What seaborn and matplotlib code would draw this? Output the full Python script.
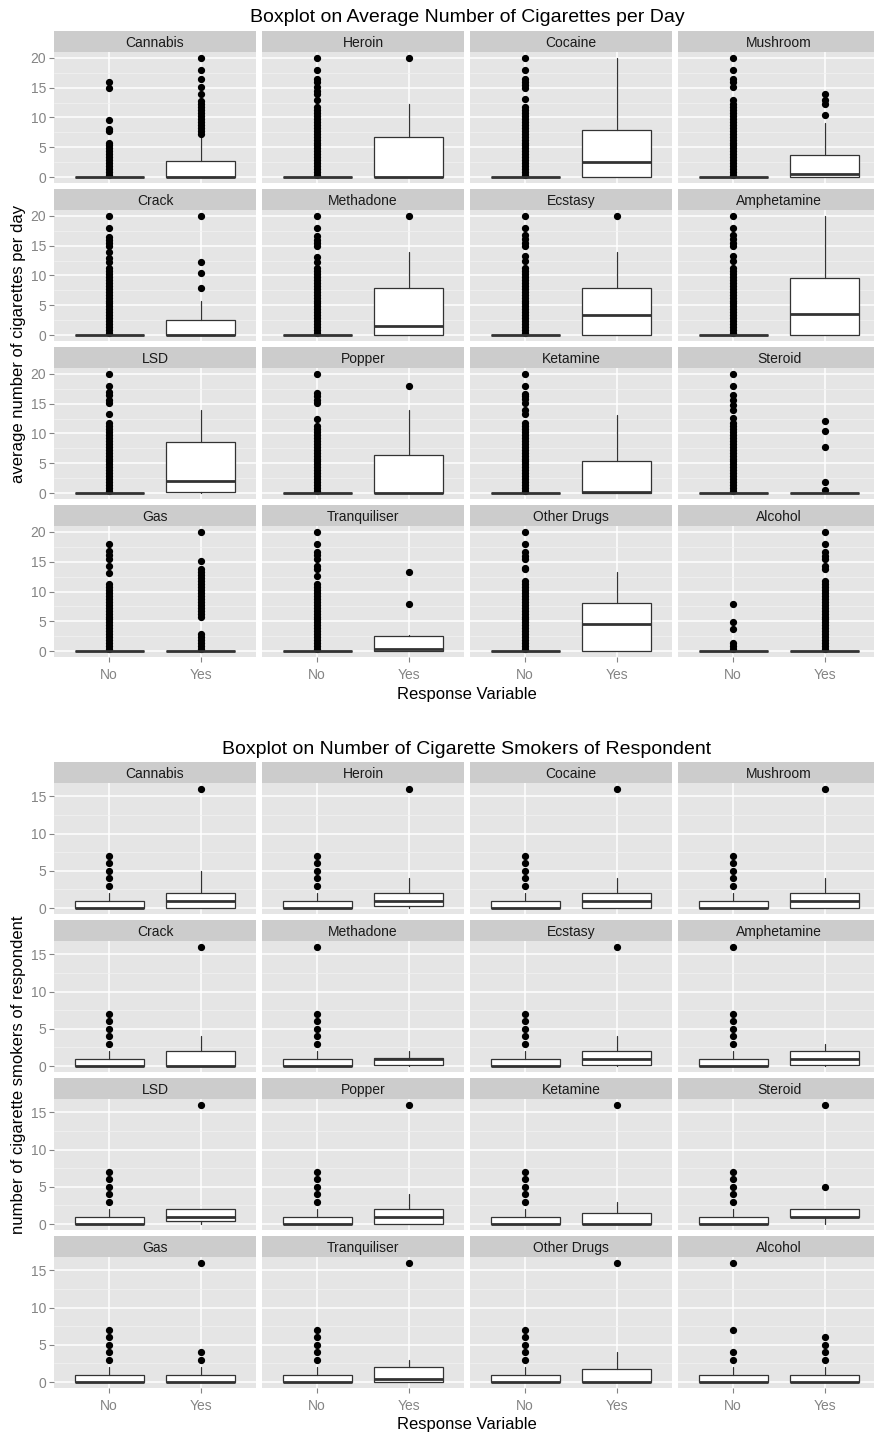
import matplotlib
matplotlib.use("Agg")
import matplotlib.pyplot as plt
import seaborn as sns

# ---------------- data ----------------
DRUGS = ["Cannabis", "Heroin", "Cocaine", "Mushroom",
         "Crack", "Methadone", "Ecstasy", "Amphetamine",
         "LSD", "Popper", "Ketamine", "Steroid",
         "Gas", "Tranquiliser", "Other Drugs", "Alcohol"]
GROUPS = ["No", "Yes"]

# values used to render densely packed outlier columns
STACK = [0.3, 0.8, 1.3, 1.8, 2.3, 2.8, 3.3, 3.8, 4.3, 4.8, 5.3, 5.8, 6.3, 6.8,
         7.3, 7.8, 8.3, 8.8, 9.3, 9.8, 10.3, 10.8, 11.3, 11.8, 12.3, 12.8,
         13.3, 13.8]

# --- Chart 1: average number of cigarettes per day ---
cig_no_q1 = [0, 0, 0, 0, 0, 0, 0, 0, 0, 0, 0, 0, 0, 0, 0, 0]
cig_no_med = [0, 0, 0, 0, 0, 0, 0, 0, 0, 0, 0, 0, 0, 0, 0, 0]
cig_no_q3 = [0, 0, 0, 0, 0, 0, 0, 0, 0, 0, 0, 0, 0, 0, 0, 0]
cig_no_lo = [0, 0, 0, 0, 0, 0, 0, 0, 0, 0, 0, 0, 0, 0, 0, 0]
cig_no_hi = [0, 0, 0, 0, 0, 0, 0, 0, 0, 0, 0, 0, 0, 0, 0, 0]
cig_no_dense = [[(0.3, 6.0)], [(0.3, 12.0)], [(0.3, 11.8)], [(0.3, 12.4)],
                [(0.3, 11.5)], [(0.3, 11.6)], [(0.3, 11.6)], [(0.3, 11.6)],
                [(0.3, 11.8)], [(0.3, 11.5)], [(0.3, 12.1)], [(0.3, 11.8)],
                [(0.3, 11.5)], [(0.3, 11.5)], [(0.3, 12.0)], []]
cig_no_sparse = [
    [7.8, 8.1, 9.6, 15.0, 15.9],
    [13.0, 13.9, 14.5, 15.1, 15.9, 16.5, 17.9, 20],
    [13.1, 14.9, 15.4, 16.0, 16.5, 17.9, 20],
    [13.0, 15.1, 15.9, 16.5, 17.9, 20],
    [12.2, 13.0, 14.0, 15.0, 15.5, 16.0, 16.5, 17.9, 20],
    [12.3, 13.1, 14.9, 15.4, 16.0, 16.6, 17.9, 20],
    [12.4, 13.3, 15.0, 15.5, 16.2, 16.8, 17.9, 20],
    [12.4, 13.3, 15.0, 15.5, 16.2, 16.8, 17.9, 20],
    [13.2, 15.2, 15.7, 16.5, 16.9, 17.9, 20],
    [12.4, 15.2, 15.7, 16.3, 16.8, 20],
    [13.2, 14.0, 15.1, 15.8, 16.3, 16.6, 17.9, 20],
    [12.6, 14.0, 14.8, 15.6, 16.5, 17.9, 20],
    [13.1, 14.3, 15.4, 16.2, 16.8, 17.9],
    [12.6, 13.7, 14.3, 15.4, 16.2, 16.6, 17.9, 20],
    [13.7, 14.0, 15.4, 16.0, 16.6, 17.9, 20],
    [0.3, 0.9, 1.3, 3.7, 4.8, 7.9],
]
cig_yes_q1 = [0, 0, 0, 0, 0, 0, 0, 0, 0.1, 0, 0, 0, 0, 0, 0, 0]
cig_yes_med = [0, 0, 2.6, 0.45, 0, 1.5, 3.3, 3.6, 2.1, 0, 0.2, 0, 0, 0.33, 4.5, 0]
cig_yes_q3 = [2.7, 6.8, 7.9, 3.7, 2.5, 7.9, 7.9, 9.5, 8.5, 6.35, 5.3, 0, 0, 2.45, 8.0, 0]
cig_yes_lo = [0, 0, 0, 0, 0, 0, 0, 0, 0, 0, 0, 0, 0, 0, 0, 0]
cig_yes_hi = [6.8, 12.2, 20, 9.1, 5.7, 14.0, 14.0, 20, 14.0, 14.0, 13.1, 0, 0, 2.7, 13.3, 0]
cig_yes_dense = [[(7.0, 13.0)], [], [], [],
                 [], [], [], [],
                 [], [], [], [],
                 [(0.3, 3.1), (5.6, 14.0)], [], [], [(0.3, 12.0)]]
cig_yes_sparse = [
    [13.9, 15.1, 16.5, 17.9, 20],
    [20], [], [10.4, 12.2, 13.0, 13.9],
    [7.9, 10.5, 12.3, 20], [20], [20], [],
    [], [17.9], [], [0.56, 1.9, 7.8, 10.4, 12.1],
    [15.1, 20], [7.9, 13.2], [], [13.7, 14.3, 15.4, 16.0, 16.6, 17.9, 20],
]

# --- Chart 2: number of cigarette smokers of respondent ---
smk_no_q1 = [0, 0, 0, 0, 0, 0, 0, 0, 0, 0, 0, 0, 0, 0, 0, 0]
smk_no_med = [0, 0, 0, 0, 0, 0, 0, 0, 0, 0, 0, 0, 0, 0, 0, 0]
smk_no_q3 = [1, 1, 1, 1, 1, 1, 1, 1, 1, 1, 1, 1, 1, 1, 1, 1]
smk_no_lo = [0, 0, 0, 0, 0, 0, 0, 0, 0, 0, 0, 0, 0, 0, 0, 0]
smk_no_hi = [2, 2, 2, 2, 2, 2, 2, 2, 2, 2, 2, 2, 2, 2, 2, 2]
smk_no_out = [
    [3, 4, 5, 6, 7], [3, 4, 5, 6, 7], [3, 4, 5, 6, 7], [3, 4, 5, 6, 7],
    [3, 4, 5, 6, 7], [3, 4, 5, 6, 7, 16], [3, 4, 5, 6, 7], [3, 4, 5, 6, 7, 16],
    [3, 4, 5, 6, 7], [3, 4, 5, 6, 7], [3, 4, 5, 6, 7], [3, 4, 5, 6, 7],
    [3, 4, 5, 6, 7], [3, 4, 5, 6, 7], [3, 4, 5, 6, 7], [3, 4, 7, 16],
]
smk_yes_q1 = [0, 0.22, 0, 0, 0, 0.1, 0.1, 0.1, 0.36, 0, 0, 0.9, 0, 0, 0, 0]
smk_yes_med = [1, 1, 1, 1, 0, 1, 1, 1, 1, 1, 0, 1, 0, 0.45, 0, 0]
smk_yes_q3 = [2, 2, 2, 2, 2, 1.1, 2, 2, 2, 2, 1.5, 2.06, 1, 2, 1.8, 1]
smk_yes_lo = [0, 0, 0, 0, 0, 0, 0, 0, 0, 0, 0, 0, 0, 0, 0, 0]
smk_yes_hi = [5, 4, 4, 4, 4, 2, 4, 3, 2, 4, 3, 2.06, 2, 3, 4.1, 2]
smk_yes_out = [
    [16], [16], [16], [16],
    [16], [], [16], [],
    [16], [16], [16], [5, 16],
    [3, 4, 16], [16], [16], [3, 4, 5, 6],
]

# ---------------- style ----------------
sns.set_theme(style="darkgrid", rc={"axes.facecolor": "#E5E5E5",
                                    "grid.color": "white",
                                    "figure.facecolor": "white"})
plt.rcParams["font.family"] = ["Liberation Sans", "DejaVu Sans"]

W, H = 874, 1437
fig = plt.figure(figsize=(W / 100, H / 100), dpi=100)


def rect(x0, y0, w, h):
    return [x0 / W, 1 - (y0 + h) / H, w / W, h / H]


COL_LEFT = [54, 262, 470, 678]
PW, PH, SH, ROWSTEP = 202, 131, 21, 158
TICK_C = "#848484"
EDGE = "#333333"


def fliers(dense, sparse):
    vals = []
    for lo, hi in dense:
        vals += [v for v in STACK if lo <= v <= hi]
    return vals + list(sparse)


def draw_chart(top, title, ylabel, ylim, majors, minors, stats_fn):
    for i, drug in enumerate(DRUGS):
        r, c = divmod(i, 4)
        st = top + ROWSTEP * r
        sax = fig.add_axes(rect(COL_LEFT[c], st, PW, SH))
        sax.set_facecolor("#CCCCCC")
        sax.set_xticks([]); sax.set_yticks([])
        sax.grid(False)
        for sp in sax.spines.values():
            sp.set_visible(False)
        sax.text(0.5, 0.45, drug, ha="center", va="center", fontsize=10,
                 color="#1A1A1A", transform=sax.transAxes)

        ax = fig.add_axes(rect(COL_LEFT[c], st + SH, PW, PH))
        ax.set_facecolor("#E5E5E5")
        ax.set_axisbelow(True)
        for sp in ax.spines.values():
            sp.set_visible(False)
        ax.set_xlim(0.4, 2.6)
        ax.set_ylim(*ylim)
        ax.set_yticks(majors)
        ax.set_yticks(minors, minor=True)
        ax.grid(which="major", axis="both", color="white", lw=1.1)
        ax.grid(which="minor", axis="y", color="#F2F2F2", lw=0.5)
        ax.grid(which="minor", axis="x", visible=False)

        ax.bxp(stats_fn(i), positions=[1, 2], widths=0.75, patch_artist=True,
               showcaps=False,
               boxprops=dict(facecolor="white", edgecolor=EDGE, lw=0.9),
               medianprops=dict(color=EDGE, lw=2.0),
               whiskerprops=dict(color=EDGE, lw=0.9),
               flierprops=dict(marker="o", markerfacecolor="black",
                               markeredgecolor="black", markersize=4.2,
                               linestyle="none"))
        ax.set_xticks([1, 2])
        ax.tick_params(which="major", color=TICK_C, length=3.6, width=0.8,
                       labelcolor=TICK_C, labelsize=10, left=True, bottom=True)
        ax.tick_params(axis="x", which="major", pad=4)
        ax.tick_params(axis="y", which="major", pad=2.2)
        ax.tick_params(which="minor", length=0)
        if r == 3:
            ax.set_xticklabels(GROUPS)
        else:
            ax.set_xticklabels([])
            ax.tick_params(axis="x", length=0)
        if c == 0:
            ax.set_yticklabels([str(v) for v in majors])
        else:
            ax.set_yticklabels([])
            ax.tick_params(axis="y", length=0)
        ax.set_xlabel(""); ax.set_ylabel("")

    fig.text(467 / W, 1 - (top - 13) / H, title, ha="center", va="center",
             fontsize=14, color="black")
    fig.text(19 / W, 1 - (top + 313) / H, ylabel, ha="center", va="center",
             rotation=90, fontsize=12, color="black")
    fig.text(467 / W, 1 - (top + 663) / H, "Response Variable", ha="center",
             va="center", fontsize=12, color="black")


def cig_stats(i):
    no = dict(q1=cig_no_q1[i], med=cig_no_med[i], q3=cig_no_q3[i],
              whislo=cig_no_lo[i], whishi=cig_no_hi[i],
              fliers=fliers(cig_no_dense[i], cig_no_sparse[i]))
    yes = dict(q1=cig_yes_q1[i], med=cig_yes_med[i], q3=cig_yes_q3[i],
               whislo=cig_yes_lo[i], whishi=cig_yes_hi[i],
               fliers=fliers(cig_yes_dense[i], cig_yes_sparse[i]))
    return [no, yes]


def smk_stats(i):
    no = dict(q1=smk_no_q1[i], med=smk_no_med[i], q3=smk_no_q3[i],
              whislo=smk_no_lo[i], whishi=smk_no_hi[i], fliers=smk_no_out[i])
    yes = dict(q1=smk_yes_q1[i], med=smk_yes_med[i], q3=smk_yes_q3[i],
               whislo=smk_yes_lo[i], whishi=smk_yes_hi[i], fliers=smk_yes_out[i])
    return [no, yes]


draw_chart(31, "Boxplot on Average Number of Cigarettes per Day",
           "average number of cigarettes per day", (-1.0, 21.0),
           [0, 5, 10, 15, 20], [2.5, 7.5, 12.5, 17.5], cig_stats)
draw_chart(762, "Boxplot on Number of Cigarette Smokers of Respondent",
           "number of cigarette smokers of respondent", (-0.8, 16.8),
           [0, 5, 10, 15], [2.5, 7.5, 12.5], smk_stats)

fig.savefig("out.png", dpi=100, facecolor="white")
